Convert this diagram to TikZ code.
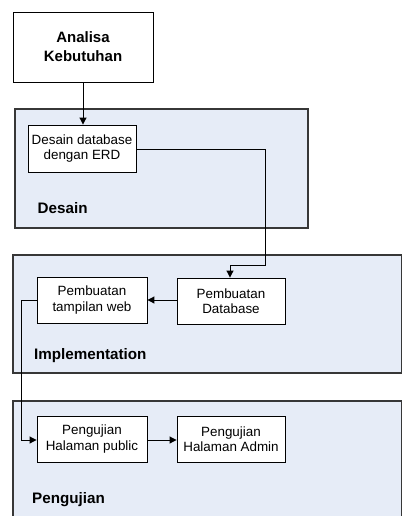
\documentclass[tikz,border=0pt]{standalone}
\usepackage{fontspec}
\setmainfont{Liberation Sans}
\usetikzlibrary{arrows.meta}
\definecolor{panelfill}{RGB}{230,236,247}
\definecolor{paneledge}{RGB}{55,55,55}
\tikzset{
  panel/.style={draw=paneledge, line width=1.3pt, fill=panelfill},
  stepbox/.style={draw=black, line width=0.9pt, fill=white, inner sep=0pt, align=center,
    font=\fontsize{13.4}{15.5}\selectfont},
  titlebox/.style={draw=black, line width=0.9pt, fill=white, inner sep=0pt, align=center,
    font=\fontsize{15}{19}\selectfont\bfseries},
  paneltitle/.style={anchor=base west, inner sep=0pt, font=\fontsize{15.2}{18}\selectfont\bfseries},
  conn/.style={draw=black, line width=1pt},
  arr/.style={conn, -{Triangle[length=7pt,width=7pt]}}
}
\begin{document}
\begin{tikzpicture}[x=1pt,y=-1pt]
\useasboundingbox (0,0) rectangle (402,516);
% panels
\path[panel] (15,109) rectangle (308,228);
\path[panel] (13,255) rectangle (401.5,373);
\path[panel] (13,401) rectangle (401.5,520);
\node[paneltitle] (lblDesain) at (37.5,213) {Desain};
\node[paneltitle] (lblImpl) at (34,359) {Implementation};
\node[paneltitle] (lblUji) at (32,503) {Pengujian};
% boxes
\node[titlebox, minimum width=140pt, minimum height=70pt] (analisa) at (83,47) {Analisa\\Kebutuhan};
\node[stepbox, minimum width=108pt, minimum height=47pt] (erd) at (82,148.5) {Desain database\\dengan ERD};
\node[stepbox, minimum width=110pt, minimum height=46pt] (web) at (92,300) {Pembuatan\\tampilan web};
\node[stepbox, minimum width=108pt, minimum height=46pt] (db) at (231,301) {Pembuatan\\Database};
\node[stepbox, minimum width=110pt, minimum height=46pt] (pub) at (92,439) {Pengujian\\Halaman public};
\node[stepbox, minimum width=108pt, minimum height=46pt] (adm) at (231,439) {Pengujian\\Halaman Admin};
\coordinate (c1) at (265,149);
\coordinate (c2) at (265,265);
\coordinate (c3) at (21,300);
\coordinate (c4) at (21,440);
% connectors
\draw[arr] (analisa.south -| 83,0) -- (erd.north -| 83,0);
\draw[arr] (erd.east |- c1) -- (c1) -- (c2) -| (db.north -| 230,0);
\draw[arr] (db.west |- 0,300) -- (web.east |- 0,300);
\draw[arr] (web.west |- c3) -- (c3) -- (c4) -- (pub.west |- c4);
\draw[arr] (pub.east |- 0,440) -- (adm.west |- 0,440);
\end{tikzpicture}
\end{document}
